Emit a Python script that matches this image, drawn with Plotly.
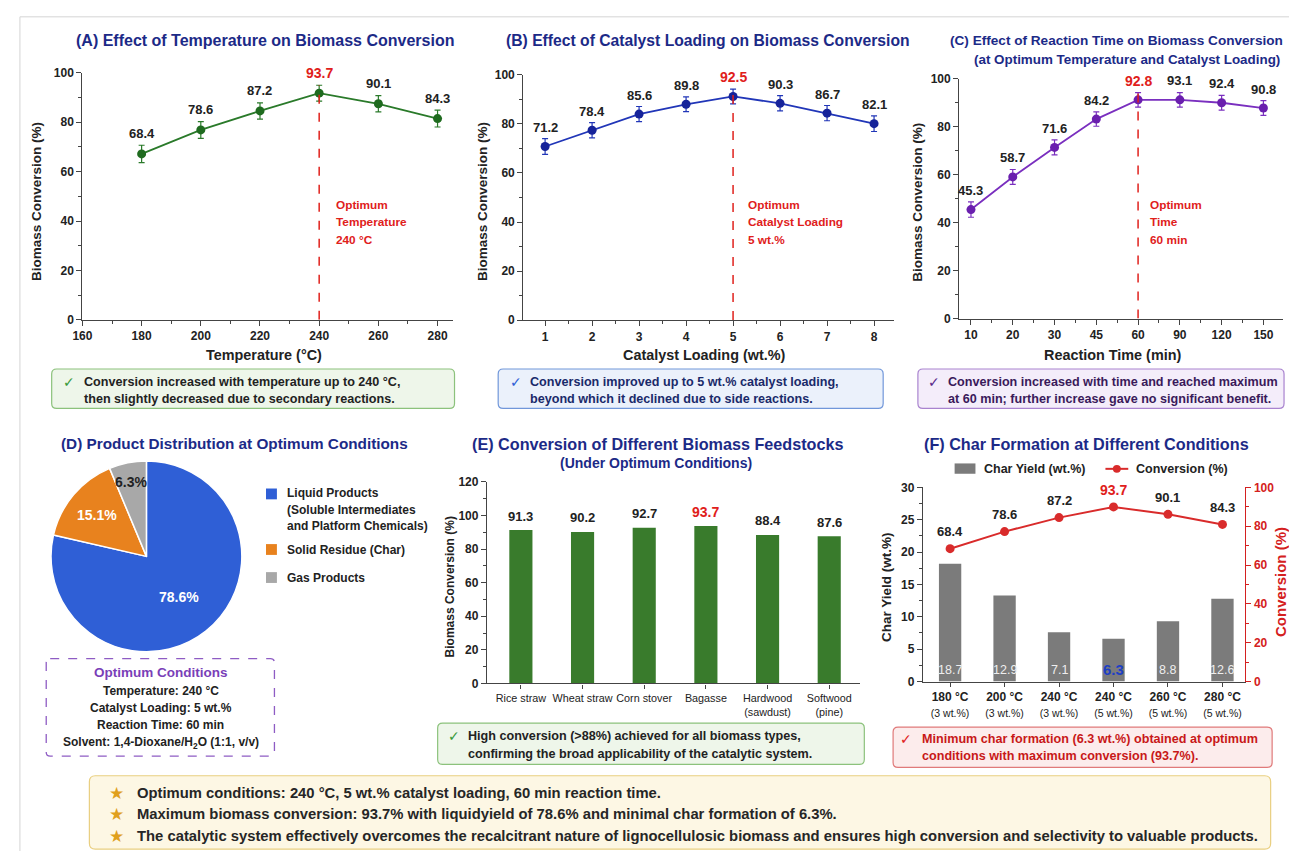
import math
import plotly.graph_objects as go

W, H = 1289, 858
PAD = 0
FONT = "Liberation Sans, Arial, Helvetica, sans-serif"
NAVY = "#1c2a87"
RED = "#e0201b"
DARK = "#222222"
AXC = "#444444"

# ---------------- data ----------------
# (A) temperature
temp_c = [180, 200, 220, 240, 260, 280]
temp_conv = [67.2, 76.9, 84.6, 91.8, 87.5, 81.5]
temp_err = [3.5, 3.4, 3.3, 3.2, 3.3, 3.4]
temp_labels = ["68.4", "78.6", "87.2", "93.7", "90.1", "84.3"]
temp_opt = 240

# (B) catalyst loading
cat_load = [1, 2, 3, 4, 5, 6, 7, 8]
cat_conv = [70.8, 77.4, 84.0, 88.0, 91.2, 88.4, 84.4, 80.1]
cat_err = [3.2, 3.1, 3.1, 3.0, 3.0, 3.1, 3.1, 3.2]
cat_labels = ["71.2", "78.4", "85.6", "89.8", "92.5", "90.3", "86.7", "82.1"]
cat_opt = 5

# (C) reaction time
time_min = ["10", "20", "30", "45", "60", "90", "120", "150"]
time_conv = [45.4, 59.0, 71.3, 83.1, 91.1, 91.1, 89.9, 87.7]
time_err = [3.2, 3.1, 3.1, 3.0, 3.0, 3.0, 3.1, 3.1]
time_labels = ["45.3", "58.7", "71.6", "84.2", "92.8", "93.1", "92.4", "90.8"]
time_opt = "60"

# (D) product distribution
product_names = ["Liquid Products", "Solid Residue (Char)", "Gas Products"]
product_legend = ["Liquid Products<br>(Soluble Intermediates<br>and Platform Chemicals)",
                  "Solid Residue (Char)", "Gas Products"]
product_share = [78.6, 15.1, 6.3]
product_colors = ["#2f5fd6", "#e8821e", "#a8a8a8"]
product_text_colors = ["white", "white", DARK]
product_label_radius = [0.55, 0.68, 0.80]   # label distance from centre, fraction of radius

# (E) feedstocks
feedstocks = ["Rice straw", "Wheat straw", "Corn stover", "Bagasse",
              "Hardwood<br>(sawdust)", "Softwood<br>(pine)"]
feed_conv = [91.3, 90.2, 92.7, 93.7, 88.4, 87.6]

# (F) char formation
cond_temp = ["180 °C", "200 °C", "240 °C", "240 °C", "260 °C", "280 °C"]
cond_load = ["(3 wt.%)", "(3 wt.%)", "(3 wt.%)", "(5 wt.%)", "(5 wt.%)", "(5 wt.%)"]
char_yield = [18.2, 13.3, 7.6, 6.6, 9.3, 12.8]
char_labels = ["18.7", "12.9", "7.1", "6.3", "8.8", "12.6"]
cond_conv = [68.4, 77.2, 84.4, 89.9, 86.1, 80.9]
cond_conv_labels = ["68.4", "78.6", "87.2", "93.7", "90.1", "84.3"]
opt_idx = 3

summary = [
    "Optimum conditions: 240 °C, 5 wt.% catalyst loading, 60 min reaction time.",
    "Maximum biomass conversion: 93.7% with liquidyield of 78.6% and minimal char formation of 6.3%.",
    "The catalytic system effectively overcomes the recalcitrant nature of lignocellulosic biomass and ensures high conversion and selectivity to valuable products.",
]


# ---------------- helpers ----------------
def X(px):
    return (px - PAD) / W


def Y(py):
    return 1 - (py - PAD) / H


annotations = []
shapes = []


def txt(x, y, s, size=12, color=DARK, bold=True, anchor="left", angle=0, yanchor="middle", family=FONT):
    annotations.append(dict(
        x=X(x), y=Y(y), xref="paper", yref="paper", text=s, showarrow=False,
        xanchor=anchor, yanchor=yanchor, textangle=angle,
        font=dict(family=family, size=size, color=color, weight="bold" if bold else "normal"),
    ))


def rrect(x0, y0, x1, y1, fill, line, r=5, dash="solid", width=1.2):
    rx, ry = r / W, r / H
    a0, a1, b0, b1 = X(x0), X(x1), Y(y0), Y(y1)
    path = (f"M {a0+rx},{b0} L {a1-rx},{b0} Q {a1},{b0} {a1},{b0-ry} "
            f"L {a1},{b1+ry} Q {a1},{b1} {a1-rx},{b1} L {a0+rx},{b1} "
            f"Q {a0},{b1} {a0},{b1+ry} L {a0},{b0-ry} Q {a0},{b0} {a0+rx},{b0} Z")
    shapes.append(dict(type="path", path=path, xref="paper", yref="paper",
                       fillcolor=fill, line=dict(color=line, width=width, dash=dash), layer="below"))


def point_labels(xs, ys, labels, xref, yref, shift, hi=None, size=13):
    for i, (xv, yv, lab) in enumerate(zip(xs, ys, labels)):
        red = (i == hi)
        annotations.append(dict(
            x=xv, y=yv, xref=xref, yref=yref, text=lab, showarrow=False,
            yshift=shift, xanchor="center", yanchor="middle",
            font=dict(family=FONT, size=size + (1 if red else 0), color=RED if red else DARK, weight="bold"),
        ))


def axis(domain_px, rng, vertical=False, **kw):
    if vertical:
        dom = [Y(domain_px[1]), Y(domain_px[0])]
    else:
        dom = [X(domain_px[0]), min(1.0, X(domain_px[1]))]
    d = dict(domain=dom, range=rng, showline=True, linecolor=AXC, linewidth=1.3,
             ticks="outside", ticklen=5, tickwidth=1.2, tickcolor=AXC,
             showgrid=False, zeroline=False, fixedrange=True,
             tickfont=dict(family=FONT, size=12, color=DARK, weight="bold"))
    d.update(kw)
    return d


def minor(dt, col=AXC):
    return dict(ticks="outside", ticklen=3, tickcolor=col, dtick=dt)


def check_box(x0, y0, x1, y1, fill, edge, check_col, text_col, lines, cx, tx, ly):
    rrect(x0, y0, x1, y1, fill, edge)
    txt(cx, ly[0], "✓", size=14, color=check_col, anchor="center", family="DejaVu Sans")
    for s, yy in zip(lines, ly):
        txt(tx, yy, s, size=12.6, color=text_col)


fig = go.Figure()

# ---------------- (A) ----------------
fig.add_trace(go.Scatter(
    x=temp_c, y=temp_conv, mode="lines+markers", xaxis="x", yaxis="y",
    line=dict(color="#2a7a2a", width=1.8), marker=dict(color="#1f6b1f", size=9),
    error_y=dict(type="data", array=temp_err, color="#2a7a2a", thickness=1.2, width=3),
))
point_labels(temp_c, temp_conv, temp_labels, "x", "y", 20, hi=temp_c.index(temp_opt))
shapes.append(dict(type="line", xref="x", yref="y", x0=temp_opt, x1=temp_opt, y0=0, y1=95,
                   line=dict(color=RED, width=1.5, dash="dash")))
for i, s in enumerate(["Optimum", "Temperature", "240 °C"]):
    txt(326.5, 201.5 + 17.5 * i, s, size=11.8, color=RED)
txt(256.5, 34, "(A) Effect of Temperature on Biomass Conversion", size=16, color=NAVY, anchor="center")
txt(26.5, 198, "Biomass Conversion (%)", size=13.5, angle=-90, anchor="center")
txt(256, 354, "Temperature (°C)", size=14.4, anchor="center")
check_box(42, 368, 448, 408, "#eef6ea", "#8cc27c", "#3a9a3a", DARK,
          ["Conversion increased with temperature up to 240 °C,",
           "then slightly decreased due to secondary reactions."], 59, 72.5, [381, 398.5])

# ---------------- (B) ----------------
fig.add_trace(go.Scatter(
    x=cat_load, y=cat_conv, mode="lines+markers", xaxis="x2", yaxis="y2",
    line=dict(color="#2136b8", width=1.8), marker=dict(color="#16239a", size=9),
    error_y=dict(type="data", array=cat_err, color="#2136b8", thickness=1.2, width=3),
))
point_labels(cat_load, cat_conv, cat_labels, "x2", "y2", 19, hi=cat_load.index(cat_opt))
shapes.append(dict(type="line", xref="x2", yref="y2", x0=cat_opt, x1=cat_opt, y0=0, y1=94,
                   line=dict(color=RED, width=1.5, dash="dash")))
for i, s in enumerate(["Optimum", "Catalyst Loading", "5 wt.%"]):
    txt(741.5, 201.5 + 17.5 * i, s, size=11.8, color=RED)
txt(703, 34, "(B) Effect of Catalyst Loading on Biomass Conversion", size=15.7, color=NAVY, anchor="center")
txt(476, 198, "Biomass Conversion (%)", size=13.5, angle=-90, anchor="center")
txt(700, 354, "Catalyst Loading (wt.%)", size=14.4, anchor="center")
check_box(492, 368, 880, 408, "#ebf1fb", "#7197da", "#2f5fd6", "#1a2a6a",
          ["Conversion improved up to 5 wt.% catalyst loading,",
           "beyond which it declined due to side reactions."], 510, 522.5, [381, 398.5])

# ---------------- (C) ----------------
time_idx = list(range(len(time_min)))
fig.add_trace(go.Scatter(
    x=time_idx, y=time_conv, mode="lines+markers", xaxis="x3", yaxis="y3",
    line=dict(color="#7a2fbf", width=1.8), marker=dict(color="#6a1fae", size=9),
    error_y=dict(type="data", array=time_err, color="#7a2fbf", thickness=1.2, width=3),
))
opt_t = time_min.index(time_opt)
point_labels(time_idx, time_conv, time_labels, "x3", "y3", 19, hi=opt_t)
shapes.append(dict(type="line", xref="x3", yref="y3", x0=opt_t, x1=opt_t, y0=0, y1=94,
                   line=dict(color=RED, width=1.5, dash="dash")))
for i, s in enumerate(["Optimum", "Time", "60 min"]):
    txt(1146.5, 201.5 + 17.5 * i, s, size=11.8, color=RED)
txt(1115, 34, "(C) Effect of Reaction Time on Biomass Conversion", size=13.6, color=NAVY, anchor="center")
txt(1126, 53, "(at Optimum Temperature and Catalyst Loading)", size=13.4, color=NAVY, anchor="center")
txt(915, 198, "Biomass Conversion (%)", size=13.5, angle=-90, anchor="center")
txt(1111, 354, "Reaction Time (min)", size=14.4, anchor="center")
check_box(915, 368, 1284, 408, "#f4edfa", "#a983cf", "#5a2a8a", "#3a1a5a",
          ["Conversion increased with time and reached maximum",
           "at 60 min; further increase gave no significant benefit."], 931.5, 943.5, [381, 398.5])

# ---------------- (D) ----------------
pie_x0, pie_x1, pie_y0, pie_y1 = 41, 234, 461.5, 655.5
fig.add_trace(go.Pie(
    values=product_share, labels=product_names, sort=False, direction="clockwise", rotation=0,
    marker=dict(colors=product_colors, line=dict(color="white", width=1.5)),
    textinfo="none",
    domain=dict(x=[X(pie_x0), X(pie_x1)], y=[Y(pie_y1), Y(pie_y0)]),
    showlegend=False, hoverinfo="label+percent",
))
# slice labels positioned from the slice angles
pcx, pcy = (pie_x0 + pie_x1) / 2, (pie_y0 + pie_y1) / 2
prad = (pie_x1 - pie_x0) / 2
total = sum(product_share)
cum = 0.0
for v, col, rf in zip(product_share, product_text_colors, product_label_radius):
    ang = math.radians((cum + v / 2) / total * 360)
    cum += v
    txt(pcx + rf * prad * math.sin(ang), pcy - rf * prad * math.cos(ang), f"{v}%",
        size=14, color=col, anchor="center")
txt(226, 444, "(D) Product Distribution at Optimum Conditions", size=15.3, color=NAVY, anchor="center")
leg_y = [495, 551.5, 580]
for c, yy in zip(product_colors, leg_y):
    shapes.append(dict(type="rect", xref="paper", yref="paper", x0=X(258), x1=X(269),
                       y0=Y(yy + 5.5), y1=Y(yy - 5.5), fillcolor=c, line=dict(width=0)))
for j, line in enumerate(product_legend[0].split("<br>")):
    txt(277, 494.5 + 16.5 * j, line, size=12)
txt(277, 551.5, product_legend[1], size=12)
txt(277, 580, product_legend[2], size=12)
rrect(36.5, 662.5, 266.5, 761.5, "rgba(0,0,0,0)", "#8e5cc4", r=4, dash="dash", width=1.3)
txt(152, 676.5, "Optimum Conditions", size=13.5, color="#7a3fb8", anchor="center")
for j, s in enumerate(["Temperature: 240 °C", "Catalyst Loading: 5 wt.%", "Reaction Time: 60 min",
                       "Solvent: 1,4-Dioxane/H<sub>2</sub>O (1:1, v/v)"]):
    txt(152, 695 + 17.7 * j, s, size=12, anchor="center")

# ---------------- (E) ----------------
feed_idx = list(range(len(feedstocks)))
fig.add_trace(go.Bar(
    x=feed_idx, y=feed_conv, xaxis="x4", yaxis="y4", width=0.375,
    marker=dict(color="#397b2c", line=dict(width=0)),
))
hi_feed = feed_conv.index(max(feed_conv))
point_labels(feed_idx, feed_conv, [f"{v:.1f}" for v in feed_conv], "x4", "y4", 14, hi=hi_feed, size=13)
txt(653, 444, "(E) Conversion of Different Biomass Feedstocks", size=16.2, color=NAVY, anchor="center")
txt(651, 463.5, "(Under Optimum Conditions)", size=14, color=NAVY, anchor="center")
txt(443.5, 590, "Biomass Conversion (%)", size=12, angle=-90, anchor="center")
check_box(431, 728, 861, 770, "#eef6ea", "#8cc27c", "#3a9a3a", DARK,
          ["High conversion (>88%) achieved for all biomass types,",
           "confirming the broad applicability of the catalytic system."], 447, 459.5, [741.5, 759])

# ---------------- (F) ----------------
cond_idx = list(range(len(cond_temp)))
fig.add_trace(go.Bar(
    x=cond_idx, y=char_yield, xaxis="x5", yaxis="y5", width=0.41,
    marker=dict(color="#7b7b7b", line=dict(width=0)),
))
fig.add_trace(go.Scatter(
    x=cond_idx, y=cond_conv, xaxis="x5", yaxis="y6", mode="lines+markers",
    line=dict(color="#d92b2b", width=2), marker=dict(color="#d92b2b", size=9),
))
for i, lab in enumerate(char_labels):
    blue = (i == opt_idx)
    annotations.append(dict(
        x=cond_idx[i], y=0, xref="x5", yref="y5", text=lab, showarrow=False, yshift=12,
        font=dict(family=FONT, size=15 if blue else 12.5, color="#1d3fc4" if blue else "#eeeeee",
                  weight="bold" if blue else "normal"),
    ))
point_labels(cond_idx, cond_conv, cond_conv_labels, "x5", "y6", 17, hi=opt_idx, size=13)
txt(1085, 444, "(F) Char Formation at Different Conditions", size=16.2, color=NAVY, anchor="center")
shapes.append(dict(type="rect", xref="paper", yref="paper", x0=X(952), x1=X(973), y0=Y(474.5), y1=Y(464),
                   fillcolor="#7b7b7b", line=dict(width=0)))
txt(980, 469.5, "Char Yield (wt.%)", size=12.5)
shapes.append(dict(type="line", xref="paper", yref="paper", x0=X(1104), x1=X(1127), y0=Y(469.5), y1=Y(469.5),
                   line=dict(color="#d92b2b", width=2)))
shapes.append(dict(type="circle", xref="paper", yref="paper", x0=X(1111.5), x1=X(1119.5), y0=Y(473.5), y1=Y(465.5),
                   fillcolor="#d92b2b", line=dict(width=0)))
txt(1133, 469.5, "Conversion (%)", size=12.5)
txt(883.5, 590, "Char Yield (wt.%)", size=13.5, angle=-90, anchor="center")
txt(1280.5, 585, "Conversion (%)", size=15, angle=-90, anchor="center", color="#d42020")
check_box(890, 732, 1272, 773, "#fcecec", "#e07a7a", RED, "#c81818",
          ["Minimum char formation (6.3 wt.%) obtained at optimum",
           "conditions with maximum conversion (93.7%)."], 903.5, 917, [744, 761])

# ---------------- summary ----------------
rrect(80, 781.5, 1270.5, 856, "#fdf7e4", "#e9cf80", r=6)
for j, s in enumerate(summary):
    yy = 799 + 21.7 * j
    txt(107, yy, "★", size=17, color="#e0a01c", anchor="center", bold=False, family="DejaVu Sans")
    txt(125.5, yy, s, size=14.8, color="#262626", bold=True)

# outer frame lines
shapes.append(dict(type="line", xref="paper", yref="paper", x0=X(10), x1=1.0, y0=Y(10), y1=Y(10),
                   line=dict(color="#d4d4d4", width=1)))
shapes.append(dict(type="line", xref="paper", yref="paper", x0=X(10), x1=X(10), y0=Y(10), y1=0,
                   line=dict(color="#d4d4d4", width=1)))

# ---------------- layout ----------------
f_ticktext = [f"<b>{t}</b><br><span style='font-size:10.5px;font-weight:normal'>{l}</span>"
              for t, l in zip(cond_temp, cond_load)]

fig.update_layout(
    width=W, height=H, margin=dict(l=0, r=0, t=0, b=0),
    paper_bgcolor="white", plot_bgcolor="white", showlegend=False,
    font=dict(family=FONT, color=DARK),
    xaxis=axis([73, 446.7], [160, 285.3], anchor="y", dtick=20, tick0=160, minor=minor(10)),
    yaxis=axis([67, 318], [0, 100], vertical=True, anchor="x", dtick=20, minor=minor(10)),
    xaxis2=axis([517.3, 890.7], [0.536, 8.42], anchor="y2", tickvals=cat_load, minor=minor(0.5)),
    yaxis2=axis([69, 318.3], [0, 100], vertical=True, anchor="x2", dtick=20, minor=minor(10)),
    xaxis3=axis([956.7, 1283], [-0.28, 7.47], anchor="y3", tickvals=time_idx, ticktext=time_min,
                minor=minor(0.5)),
    yaxis3=axis([72.7, 316.7], [0, 100], vertical=True, anchor="x3", dtick=20, minor=minor(10)),
    xaxis4=axis([480.7, 856.7], [-0.55, 5.5], anchor="y4", tickvals=feed_idx, ticktext=feedstocks,
                ticklen=4, tickangle=0, tickfont=dict(family=FONT, size=10.8, color=DARK)),
    yaxis4=axis([482.7, 687.7], [0, 120], vertical=True, anchor="x4", dtick=20, minor=minor(10)),
    xaxis5=axis([920, 1245], [-0.5, 5.42], anchor="y5", tickvals=cond_idx, ticktext=f_ticktext,
                ticklen=4, tickangle=0),
    yaxis5=axis([488.3, 685.7], [0, 30], vertical=True, anchor="x5", dtick=5, minor=minor(2.5)),
    yaxis6=dict(overlaying="y5", side="right", anchor="x5", range=[0, 100], dtick=20,
                showline=True, linecolor="#d42020", linewidth=1.3, ticks="outside", ticklen=5,
                tickcolor="#d42020", showgrid=False, zeroline=False, fixedrange=True,
                tickfont=dict(family=FONT, size=12, color="#d42020", weight="bold"),
                minor=minor(10, "#d42020")),
    annotations=annotations, shapes=shapes,
)

fig.write_html("out.html", config={"displayModeBar": False},
               post_script="document.body.style.margin='0';document.body.style.overflow='hidden';")
